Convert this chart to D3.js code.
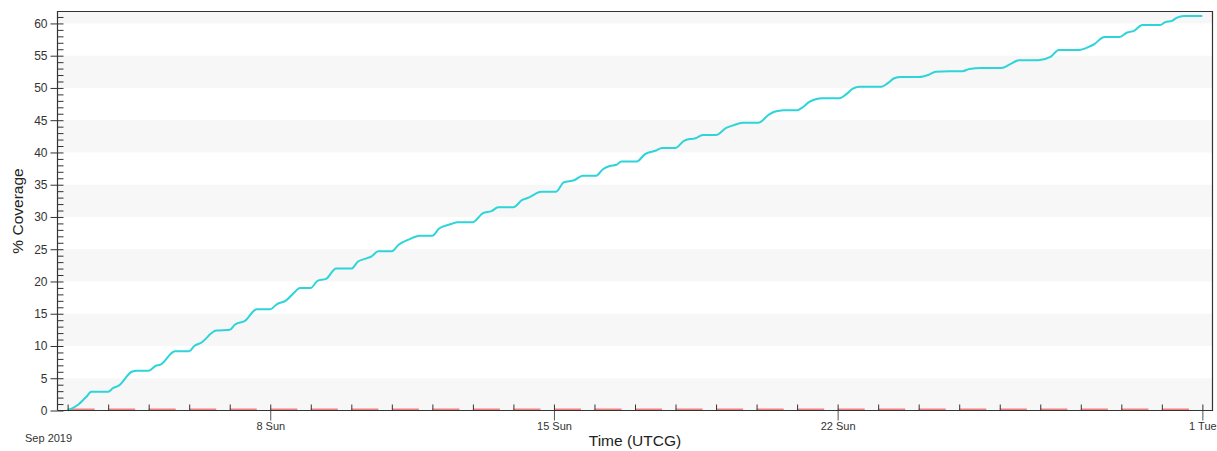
<!DOCTYPE html>
<html>
<head>
<meta charset="utf-8">
<script src="https://cdn.jsdelivr.net/npm/d3@7"></script>
<style>
  body { margin: 0; background: #fff; }
  svg { display: block; font-family: "Liberation Sans", Arial, sans-serif; }
</style>
</head>
<body>
<svg width="1217" height="451"></svg>
<script>
// hours after 2019-09-03 00:00 UTCG
const hours = [
  0, 6, 11, 14, 24, 27, 30, 38, 41, 48,
  52, 55, 63.5, 72, 75, 79, 88, 96, 99, 105,
  112, 120, 124, 129, 135, 137.5, 144, 148, 153, 159,
  168, 172, 176, 180, 184, 192, 196, 202, 208.5, 216,
  220, 227, 231, 240, 246, 251, 255, 264, 269, 273,
  280.5, 289, 294, 300, 305, 313, 317, 321, 325, 328,
  337, 342, 348.5, 352, 360, 365, 369, 372, 376, 384,
  390, 394, 400, 409, 415.5, 418.5, 424, 432, 435, 439,
  443, 447, 457, 461, 465, 469, 482, 485.5, 489.5, 493.5,
  504, 510, 514, 522, 530, 534, 541, 553, 558, 563.5,
  575, 582, 587, 599, 605, 608, 614, 623, 627.5, 631.5,
  636.5, 647, 650, 654, 657, 661, 672
];
// % coverage
const coverage = [
  0, 0.85, 2.1, 2.9, 2.9, 3.5, 3.8, 6.0, 6.15, 6.15,
  6.9, 7.1, 9.2, 9.2, 10.0, 10.5, 12.4, 12.5, 13.3, 13.9,
  15.7, 15.7, 16.5, 17.0, 18.5, 19.0, 19.0, 20.1, 20.4, 22.0,
  22.0, 23.1, 23.5, 23.9, 24.7, 24.7, 25.7, 26.5, 27.1, 27.1,
  28.2, 28.9, 29.2, 29.2, 30.6, 30.9, 31.5, 31.5, 32.6, 33.0,
  33.9, 33.9, 35.4, 35.7, 36.4, 36.4, 37.4, 37.9, 38.1, 38.6,
  38.6, 39.75, 40.3, 40.7, 40.7, 41.8, 42.1, 42.2, 42.7, 42.7,
  43.8, 44.2, 44.6, 44.6, 45.9, 46.3, 46.55, 46.55, 46.95, 47.8,
  48.25, 48.4, 48.4, 49.0, 49.9, 50.2, 50.2, 50.7, 51.5, 51.7,
  51.7, 52.05, 52.5, 52.6, 52.6, 52.95, 53.1, 53.1, 53.65, 54.3,
  54.3, 54.8, 55.9, 55.9, 56.4, 56.8, 57.9, 57.9, 58.6, 58.85,
  59.75, 59.75, 60.2, 60.4, 60.9, 61.15, 61.15
];
// second series, stays at zero
const zeroHours = [0, 672];
const zeroValues = [0, 0];

const yTicks = [0, 5, 10, 15, 20, 25, 30, 35, 40, 45, 50, 55, 60];
const labelDays = [8, 15, 22, 31];
const labelText = ["8 Sun", "15 Sun", "22 Sun", "1 Tue"];

const t0 = Date.UTC(2019, 8, 3);
const toDate = h => new Date(t0 + h * 3600e3);

const plotL = 57.5, plotR = 1212.5, plotT = 11.5, plotB = 410.5;

const x = d3.scaleUtc()
  .domain([new Date(Date.UTC(2019, 8, 2, 18)), new Date(Date.UTC(2019, 9, 1, 6))])
  .range([plotL, plotR]);
const y = d3.scaleLinear().domain([0, 61.85]).range([plotB, plotT]);

const svg = d3.select("svg");

// alternating bands
svg.append("g").selectAll("rect")
  .data(yTicks.filter(v => v % 10 === 0))
  .join("rect")
  .attr("x", plotL)
  .attr("width", plotR - plotL)
  .attr("y", d => y(Math.min(d + 5, y.domain()[1])))
  .attr("height", d => y(d) - y(Math.min(d + 5, y.domain()[1])))
  .attr("fill", "#f7f7f7");

// red zero series
const zeroData = zeroHours.map((h, i) => ({ t: toDate(h), v: zeroValues[i] }));
svg.append("path")
  .datum(zeroData)
  .attr("fill", "none")
  .attr("stroke", "#f28080")
  .attr("stroke-width", 2)
  .attr("stroke-dasharray", "27,13.53")
  .attr("d", d3.line().x(d => x(d.t)).y(d => y(d.v) - 1));

// coverage line
const data = hours.map((h, i) => ({ t: toDate(h), v: coverage[i] }));
svg.append("path")
  .datum(data)
  .attr("fill", "none")
  .attr("stroke", "#2dd4d9")
  .attr("stroke-width", 2)
  .attr("stroke-linejoin", "round")
  .attr("d", d3.line().curve(d3.curveMonotoneX).x(d => x(d.t)).y(d => y(d.v)));

// y axis: majors crossing, minors inside
const yMajor = svg.append("g").attr("transform", `translate(${plotL},0)`)
  .call(d3.axisLeft(y).tickValues(yTicks).tickSize(7).tickPadding(3));
yMajor.select(".domain").remove();
yMajor.selectAll("text").attr("font-size", 12).attr("fill", "#333").attr("font-family", null);
yMajor.selectAll("line").attr("stroke", "#333");

const yMinor = svg.append("g").attr("transform", `translate(${plotL},0)`)
  .call(d3.axisRight(y).tickValues(d3.range(0, 62)).tickSize(6).tickFormat(""));
yMinor.select(".domain").remove();
yMinor.selectAll("line").attr("stroke", "#333");

// x axis: day ticks inside, labelled ticks outside
const days = d3.utcDay.range(new Date(Date.UTC(2019, 8, 3)), new Date(Date.UTC(2019, 9, 1, 1)));
const xMinor = svg.append("g").attr("transform", `translate(0,${plotB})`)
  .call(d3.axisTop(x).tickValues(days).tickSize(6).tickFormat(""));
xMinor.select(".domain").remove();
xMinor.selectAll("line").attr("stroke", "#333");

const labelDates = labelDays.map(d => new Date(Date.UTC(2019, 8, d)));
const xMajor = svg.append("g").attr("transform", `translate(0,${plotB})`)
  .call(d3.axisBottom(x).tickValues(labelDates).tickSize(10).tickPadding(2)
    .tickFormat((d, i) => labelText[i]));
xMajor.select(".domain").remove();
xMajor.selectAll("text").attr("font-size", 11).attr("fill", "#333").attr("font-family", null);
xMajor.selectAll("line").attr("stroke", "#555");

// frame
svg.append("path")
  .attr("d", `M${plotL},${plotB}V${plotT}H${plotR}V${plotB}H${plotL}`)
  .attr("fill", "none")
  .attr("stroke", "#333")
  .attr("stroke-width", 1.2);

svg.append("text")
  .attr("x", 25).attr("y", 442)
  .attr("font-size", 11).attr("fill", "#333")
  .text("Sep 2019");

svg.append("text")
  .attr("x", (plotL + plotR) / 2).attr("y", 446)
  .attr("text-anchor", "middle")
  .attr("font-size", 15.5).attr("fill", "#222")
  .text("Time (UTCG)");

svg.append("text")
  .attr("transform", `translate(23,${(plotT + plotB) / 2}) rotate(-90)`)
  .attr("text-anchor", "middle")
  .attr("font-size", 15.5).attr("fill", "#222")
  .text("% Coverage");
</script>
</body>
</html>
